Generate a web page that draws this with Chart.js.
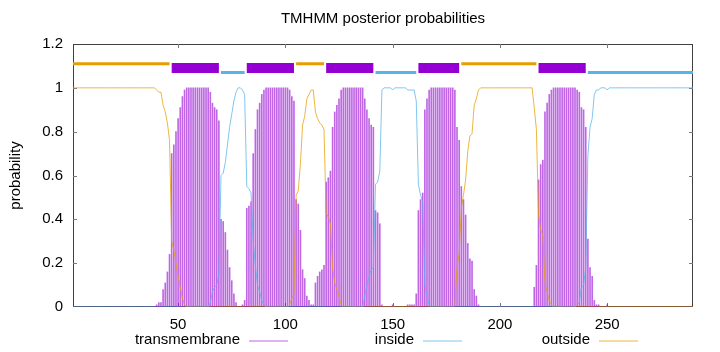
<!DOCTYPE html>
<html>
<head>
<meta charset="utf-8">
<script src="https://cdn.jsdelivr.net/npm/chart.js@4.4.1/dist/chart.umd.min.js"></script>
<style>
	html, body { margin: 0; padding: 0; background: #fff; }
	#wrap { width: 720px; height: 352px; position: relative; }
</style>
</head>
<body>
<div id="wrap"><canvas id="myChart"></canvas></div>
<script>
"use strict";

// posterior probabilities per residue, ten residues per row (1-10, 11-20, ...)
const transmembrane = [
	0, 0, 0, 0, 0, 0, 0, 0, 0, 0,
	0, 0, 0, 0, 0, 0, 0, 0, 0, 0,
	0, 0, 0, 0, 0, 0, 0, 0, 0, 0,
	0, 0, 0, 0, 0, 0, 0, 0, 0, 0.01,
	0.02, 0.02, 0.08, 0.11, 0.16, 0.24, 0.70, 0.74, 0.80, 0.86,
	0.91, 0.96, 0.99, 1, 1, 1, 1, 1, 1, 1,
	1, 1, 1, 1, 0.98, 0.93, 0.91, 0.90, 0.85, 0.40,
	0.39, 0.34, 0.26, 0.18, 0.12, 0.06, 0.02, 0, 0, 0.01,
	0.03, 0.45, 0.46, 0.48, 0.70, 0.81, 0.90, 0.93, 0.97, 0.99,
	1, 1, 1, 1, 1, 1, 1, 1, 1, 1,
	1, 0.99, 0.96, 0.94, 0.49, 0.47, 0.35, 0.17, 0.13, 0.05,
	0.03, 0.01, 0.01, 0.11, 0.14, 0.16, 0.17, 0.19, 0.57, 0.59,
	0.62, 0.82, 0.89, 0.92, 0.95, 0.99, 1, 1, 1, 1,
	1, 1, 1, 1, 1, 1, 0.95, 0.90, 0.86, 0.83,
	0.82, 0.44, 0.43, 0.38, 0.01, 0, 0, 0, 0, 0.01,
	0, 0, 0, 0, 0, 0, 0.01, 0.01, 0.01, 0.01,
	0.06, 0.44, 0.49, 0.52, 0.90, 0.95, 0.99, 1, 1, 1,
	1, 1, 1, 1, 1, 1, 1, 1, 0.99, 0.82,
	0.76, 0.55, 0.49, 0.42, 0.29, 0.22, 0.21, 0.08, 0.05, 0.01,
	0, 0, 0, 0, 0, 0, 0, 0, 0, 0,
	0, 0, 0, 0, 0, 0, 0, 0, 0, 0,
	0, 0, 0, 0, 0, 0.09, 0.19, 0.58, 0.65, 0.67,
	0.89, 0.93, 0.97, 0.99, 1, 1, 1, 1, 1, 1,
	1, 1, 1, 1, 1, 0.99, 0.98, 0.91, 0.90, 0.82,
	0.31, 0.18, 0.14, 0.03, 0.01, 0.01, 0, 0, 0, 0.01,
	0, 0, 0, 0, 0, 0, 0, 0, 0, 0,
	0, 0, 0, 0, 0, 0, 0, 0, 0, 0,
	0, 0, 0, 0, 0, 0, 0, 0, 0, 0,
	0, 0, 0, 0, 0, 0, 0, 0, 0, 0,
];

const inside = [
	0, 0, 0, 0, 0, 0, 0, 0, 0, 0,
	0, 0, 0, 0, 0, 0, 0, 0, 0, 0,
	0, 0, 0, 0, 0, 0, 0, 0, 0, 0,
	0, 0, 0, 0, 0, 0, 0, 0, 0, 0,
	0, 0, 0, 0, 0, 0, 0, 0, 0, 0,
	0, 0, 0, 0, 0, 0, 0, 0, 0, 0,
	0, 0, 0, 0, 0.02, 0.07, 0.09, 0.10, 0.15, 0.60,
	0.61, 0.66, 0.74, 0.82, 0.88, 0.94, 0.98, 1, 1, 0.99,
	0.97, 0.55, 0.54, 0.52, 0.30, 0.19, 0.10, 0.07, 0.03, 0.01,
	0, 0, 0, 0, 0, 0, 0, 0, 0, 0,
	0, 0, 0, 0, 0, 0, 0, 0, 0, 0,
	0, 0, 0, 0, 0, 0, 0, 0, 0, 0,
	0, 0, 0, 0, 0, 0, 0, 0, 0, 0,
	0, 0, 0, 0, 0, 0, 0.05, 0.10, 0.14, 0.17,
	0.18, 0.56, 0.57, 0.62, 0.99, 1, 1, 1, 1, 0.99,
	1, 1, 1, 1, 1, 1, 0.99, 0.99, 0.99, 0.99,
	0.94, 0.56, 0.51, 0.48, 0.10, 0.05, 0.01, 0, 0, 0,
	0, 0, 0, 0, 0, 0, 0, 0, 0, 0,
	0, 0, 0, 0, 0, 0, 0, 0, 0, 0,
	0, 0, 0, 0, 0, 0, 0, 0, 0, 0,
	0, 0, 0, 0, 0, 0, 0, 0, 0, 0,
	0, 0, 0, 0, 0, 0, 0, 0, 0, 0,
	0, 0, 0, 0, 0, 0, 0, 0, 0, 0,
	0, 0, 0, 0, 0, 0.01, 0.02, 0.09, 0.10, 0.18,
	0.69, 0.82, 0.86, 0.97, 0.99, 0.99, 1, 1, 1, 0.99,
	1, 1, 1, 1, 1, 1, 1, 1, 1, 1,
	1, 1, 1, 1, 1, 1, 1, 1, 1, 1,
	1, 1, 1, 1, 1, 1, 1, 1, 1, 1,
	1, 1, 1, 1, 1, 1, 1, 1, 1, 1,
];

const outside = [
	1, 1, 1, 1, 1, 1, 1, 1, 1, 1,
	1, 1, 1, 1, 1, 1, 1, 1, 1, 1,
	1, 1, 1, 1, 1, 1, 1, 1, 1, 1,
	1, 1, 1, 1, 1, 1, 1, 1, 1, 0.99,
	0.98, 0.98, 0.92, 0.89, 0.84, 0.76, 0.30, 0.26, 0.20, 0.14,
	0.09, 0.04, 0.01, 0, 0, 0, 0, 0, 0, 0,
	0, 0, 0, 0, 0, 0, 0, 0, 0, 0,
	0, 0, 0, 0, 0, 0, 0, 0, 0, 0,
	0, 0, 0, 0, 0, 0, 0, 0, 0, 0,
	0, 0, 0, 0, 0, 0, 0, 0, 0, 0,
	0, 0.01, 0.04, 0.06, 0.51, 0.53, 0.65, 0.83, 0.87, 0.95,
	0.97, 0.99, 0.99, 0.89, 0.86, 0.84, 0.83, 0.81, 0.43, 0.41,
	0.38, 0.18, 0.11, 0.08, 0.05, 0.01, 0, 0, 0, 0,
	0, 0, 0, 0, 0, 0, 0, 0, 0, 0,
	0, 0, 0, 0, 0, 0, 0, 0, 0, 0,
	0, 0, 0, 0, 0, 0, 0, 0, 0, 0,
	0, 0, 0, 0, 0, 0, 0, 0, 0, 0,
	0, 0, 0, 0, 0, 0, 0, 0, 0.01, 0.18,
	0.24, 0.45, 0.51, 0.58, 0.71, 0.78, 0.79, 0.92, 0.95, 0.99,
	1, 1, 1, 1, 1, 1, 1, 1, 1, 1,
	1, 1, 1, 1, 1, 1, 1, 1, 1, 1,
	1, 1, 1, 1, 1, 0.91, 0.81, 0.42, 0.35, 0.33,
	0.11, 0.07, 0.03, 0.01, 0, 0, 0, 0, 0, 0,
	0, 0, 0, 0, 0, 0, 0, 0, 0, 0,
	0, 0, 0, 0, 0, 0, 0, 0, 0, 0,
	0, 0, 0, 0, 0, 0, 0, 0, 0, 0,
	0, 0, 0, 0, 0, 0, 0, 0, 0, 0,
	0, 0, 0, 0, 0, 0, 0, 0, 0, 0,
	0, 0, 0, 0, 0, 0, 0, 0, 0, 0,
];

// predicted topology (residue ranges)
const outsideSegments = [[1, 46], [105, 118], [182, 217]];
const insideSegments = [[70, 81], [142, 161], [241, 290]];
const tmSegments = [[47, 69], [82, 104], [119, 141], [162, 181], [218, 240]];

const xTicks = [50, 100, 150, 200, 250];
const yTicks = [0, 0.2, 0.4, 0.6, 0.8, 1, 1.2];
const yTickLabels = ["0", "0.2", "0.4", "0.6", "0.8", "1", "1.2"];

const legendLabels = ["transmembrane", "inside", "outside"];

const TM_COLOR = "rgba(148, 0, 211, 0.6)";
const IN_COLOR = "#56b4e9";
const OUT_COLOR = "#e69f00";
const IN_CURVE = "rgba(86, 180, 233, 0.75)";
const OUT_CURVE = "rgba(230, 159, 0, 0.75)";
const FONT = "Liberation Sans, Arial, sans-serif";

const residues = transmembrane.map((v, i) => i + 1);

function toPoints(values) {
	return values.map((v, i) => ({ x: residues[i], y: v }));
}

function segmentPoints(segments, level) {
	const pts = [];
	segments.forEach(function (seg) {
		pts.push({ x: seg[0], y: level }, { x: seg[1], y: level }, { x: seg[1], y: null });
	});
	return pts;
}

const decorations = {
	id: "decorations",
	beforeDatasetsDraw(chart) {
		const { ctx, chartArea: a, scales } = chart;
		ctx.save();
		ctx.strokeStyle = "#404040";
		ctx.lineWidth = 1;
		ctx.strokeRect(a.left + 0.5, a.top + 0.5, a.right - a.left - 1, a.bottom - a.top - 1);
		ctx.strokeStyle = "#777";
		ctx.beginPath();
		xTicks.forEach(function (v) {
			const px = Math.round(scales.x.getPixelForValue(v)) + 0.5;
			ctx.moveTo(px, a.top);
			ctx.lineTo(px, a.top + 4);
			ctx.moveTo(px, a.bottom);
			ctx.lineTo(px, a.bottom - 4);
		});
		yTicks.slice(1, -1).forEach(function (v) {
			const py = Math.round(scales.y.getPixelForValue(v)) + 0.5;
			ctx.moveTo(a.left, py);
			ctx.lineTo(a.left + 4, py);
			ctx.moveTo(a.right, py);
			ctx.lineTo(a.right - 4, py);
		});
		ctx.stroke();
		ctx.restore();
	},
	afterDraw(chart) {
		const { ctx, chartArea: a } = chart;
		ctx.save();
		ctx.fillStyle = "#000";
		ctx.font = "15px " + FONT;
		ctx.textAlign = "center";
		ctx.textBaseline = "middle";
		ctx.fillText("TMHMM posterior probabilities", (a.left + a.right) / 2, 19);

		ctx.save();
		ctx.translate(16, (a.top + a.bottom) / 2);
		ctx.rotate(-Math.PI / 2);
		ctx.fillText("probability", 0, 0);
		ctx.restore();

		const colors = [TM_COLOR, IN_CURVE, OUT_CURVE];
		const rightEdges = [240, 414, 590];
		ctx.textAlign = "right";
		legendLabels.forEach(function (label, i) {
			const xr = rightEdges[i];
			ctx.fillStyle = "#000";
			ctx.fillText(label, xr, 340);
			ctx.strokeStyle = colors[i];
			ctx.lineWidth = 1;
			ctx.beginPath();
			ctx.moveTo(xr + 9, 341);
			ctx.lineTo(xr + 48, 341);
			ctx.stroke();
		});
		ctx.restore();
	},
};

const ctx = document.getElementById("myChart");

new Chart(ctx, {
	type: "line",
	data: {
		datasets: [
			{
				label: "outside topology",
				data: segmentPoints(outsideSegments, 1.11),
				borderColor: OUT_COLOR,
				borderWidth: 3,
				borderCapStyle: "butt",
				pointRadius: 0,
				order: 0,
			},
			{
				label: "inside topology",
				data: segmentPoints(insideSegments, 1.07),
				borderColor: IN_COLOR,
				borderWidth: 3,
				borderCapStyle: "butt",
				pointRadius: 0,
				order: 0,
			},
			{
				label: "transmembrane topology",
				data: segmentPoints(tmSegments, 1.09),
				borderColor: "#9400d3",
				borderWidth: 10,
				borderCapStyle: "butt",
				pointRadius: 0,
				order: 0,
			},
			{
				label: "inside",
				data: toPoints(inside),
				borderColor: IN_CURVE,
				borderWidth: 1,
				pointRadius: 0,
				order: 1,
			},
			{
				label: "outside",
				data: toPoints(outside),
				borderColor: OUT_CURVE,
				borderWidth: 1,
				pointRadius: 0,
				order: 1,
			},
			{
				type: "bar",
				label: "transmembrane",
				data: toPoints(transmembrane),
				backgroundColor: TM_COLOR,
				borderWidth: 0,
				barThickness: 1,
				order: 2,
			},
		],
	},
	options: {
		responsive: true,
		maintainAspectRatio: false,
		animation: false,
		devicePixelRatio: 1,
		layout: { padding: { top: 44, right: 27, bottom: 0, left: 0 } },
		plugins: {
			legend: { display: false },
			title: { display: false },
			tooltip: { enabled: false },
		},
		scales: {
			x: {
				type: "linear",
				min: 1,
				max: 290,
				offset: false,
				grid: { display: false, drawTicks: false },
				border: { display: false },
				afterBuildTicks: function (scale) {
					scale.ticks = xTicks.map((v) => ({ value: v }));
				},
				afterFit: function (scale) {
					scale.height = 45;
				},
				ticks: {
					padding: 9,
					color: "#000",
					maxRotation: 0,
					autoSkip: false,
					font: { family: FONT, size: 15 },
					callback: (v) => String(v),
				},
			},
			y: {
				min: 0,
				max: 1.2,
				grid: { display: false, drawTicks: false },
				border: { display: false },
				afterBuildTicks: function (scale) {
					scale.ticks = yTicks.map((v) => ({ value: v }));
				},
				afterFit: function (scale) {
					scale.width = 73;
				},
				ticks: {
					padding: 10,
					color: "#000",
					autoSkip: false,
					font: { family: FONT, size: 15 },
					callback: (v, i) => yTickLabels[i],
				},
			},
		},
	},
	plugins: [decorations],
});
</script>
</body>
</html>
